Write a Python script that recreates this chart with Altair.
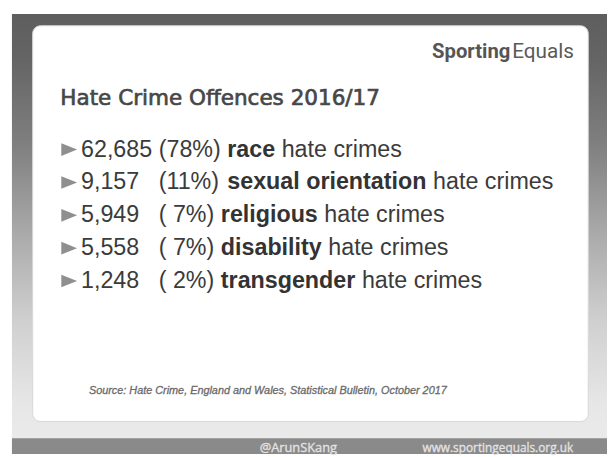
import altair as alt
import pandas as pd

# ---- content -------------------------------------------------------------
counts = ["62,685", "9,157", "5,949", "5,558", "1,248"]
shares = ["(78%)", "(11%)", "( 7%)", "( 7%)", "( 2%)"]
categories = ["race", "sexual orientation", "religious", "disability", "transgender"]
suffix = "hate crimes"
title_text = "Hate Crime Offences 2016/17"
source_text = "Source: Hate Crime, England and Wales, Statistical Bulletin, October 2017"
brand_bold = "Sporting"
brand_rest = "Equals"
handle = "@ArunSKang"
website = "www.sportingequals.org.uk"

# ---- layout / style ------------------------------------------------------
W, H = 607, 449
FS = 23.6
NUM_X = 74
ROW_Y0, ROW_STEP = 140.5, 33.3
TEXT_COLOR = "#3b3b3b"
BODY_FONT = "Liberation Sans"

# Arial-compatible advance widths (1/1000 em) for Liberation Sans
REG = {**{d: 556 for d in "0123456789"}, ",": 278, " ": 278, "(": 333, ")": 333, "%": 889}
BOLD = dict(zip("abcdefghijklmnopqrstuvwxyz",
                [556, 611, 556, 611, 556, 333, 611, 611, 278, 278, 556, 278, 889,
                 611, 611, 611, 611, 389, 556, 333, 611, 556, 778, 556, 556, 500]))
BOLD[" "] = 278


def width(s, table):
    return sum(table[c] for c in s) * FS / 1000


share_x = NUM_X + width(counts[0] + " ", REG)
rows = pd.DataFrame({"row": range(len(counts)), "count": counts, "share": shares,
                     "category": categories, "suffix": [suffix] * len(counts)})
rows["cat_x"] = [share_x + width(s + " ", REG) for s in shares]
rows["suf_x"] = [cx + width(c, BOLD) + width(" ", REG) for cx, c in zip(rows["cat_x"], categories)]

xs = alt.Scale(domain=[0, W], range=[0, W])
ys = alt.Scale(domain=[0, len(counts) - 1], range=[ROW_Y0, ROW_Y0 + ROW_STEP * (len(counts) - 1)])
Y = alt.Y("row:Q", scale=ys, axis=None)

one = alt.Data(values=[{"k": 1}])

frame = alt.Chart(one).mark_rect(
    color=alt.Gradient(
        gradient="linear", x1=0, x2=0, y1=0, y2=1,
        stops=[alt.GradientStop(color="#5e5e5e", offset=0),
               alt.GradientStop(color="#646464", offset=0.1),
               alt.GradientStop(color="#808080", offset=0.3),
               alt.GradientStop(color="#aaaaaa", offset=0.5),
               alt.GradientStop(color="#d0d0d0", offset=0.7),
               alt.GradientStop(color="#e6e6e6", offset=0.88),
               alt.GradientStop(color="#ececec", offset=1)])
).encode(x=alt.value(4), x2=alt.value(W), y=alt.value(3), y2=alt.value(H))

band = alt.Chart(one).mark_rect(color="#8a8a8a").encode(
    x=alt.value(4), x2=alt.value(W), y=alt.value(433), y2=alt.value(H))

card = alt.Chart(one).mark_rect(fill="white", stroke="#d6d6d6", strokeWidth=1, cornerRadius=8).encode(
    x=alt.value(25), x2=alt.value(588), y=alt.value(15), y2=alt.value(416))

title = alt.Chart(alt.Data(values=[{"t": title_text}])).mark_text(
    font="DejaVu Sans", fontSize=21.8, color="#474747", stroke="#474747", strokeWidth=0.7,
    align="left", baseline="alphabetic"
).encode(x=alt.value(53), y=alt.value(95), text="t:N")

logo_a = alt.Chart(alt.Data(values=[{"t": brand_bold}])).mark_text(
    font="Roboto", fontSize=20.5, fontWeight="bold",
    color="#555555", align="right", baseline="alphabetic"
).encode(x=alt.value(509), y=alt.value(48), text="t:N")

logo_b = alt.Chart(alt.Data(values=[{"t": brand_rest}])).mark_text(
    font="Roboto", fontSize=21,
    color="#5a5a5a", align="left", baseline="alphabetic"
).encode(x=alt.value(511), y=alt.value(48), text="t:N")

base = alt.Chart(rows)

tri = base.mark_point(shape="M-1,-0.8L1,0L-1,0.8Z", filled=True, size=256, color="#8f8f8f",
                      opacity=1, strokeWidth=0).encode(x=alt.value(62), y=Y)

num = base.mark_text(font=BODY_FONT, fontSize=FS, color=TEXT_COLOR, align="left", baseline="middle").encode(
    x=alt.value(NUM_X), y=Y, text="count:N")

pct = base.mark_text(font=BODY_FONT, fontSize=FS, color=TEXT_COLOR, align="left", baseline="middle").encode(
    x=alt.value(share_x), y=Y, text="share:N")

cat = base.mark_text(font=BODY_FONT, fontSize=FS, fontWeight="bold", color="#333333",
                     align="left", baseline="middle").encode(
    x=alt.X("cat_x:Q", scale=xs, axis=None), y=Y, text="category:N")

suf = base.mark_text(font=BODY_FONT, fontSize=FS, color=TEXT_COLOR, align="left", baseline="middle").encode(
    x=alt.X("suf_x:Q", scale=xs, axis=None), y=Y, text="suffix:N")

source = alt.Chart(alt.Data(values=[{"t": source_text}])).mark_text(
    font=BODY_FONT, fontSize=11, fontStyle="italic", color="#6a6a6a", stroke="#6a6a6a", strokeWidth=0.3,
    align="left", baseline="middle"
).encode(x=alt.value(82), y=alt.value(385), text="t:N")

handle_t = alt.Chart(alt.Data(values=[{"t": handle}])).mark_text(
    font="Open Sans", fontSize=13, color="#e4e4e4", stroke="#e4e4e4", strokeWidth=0.3,
    align="left", baseline="alphabetic"
).encode(x=alt.value(255), y=alt.value(446.5), text="t:N")

site_t = alt.Chart(alt.Data(values=[{"t": website}])).mark_text(
    font="Open Sans", fontSize=12, color="#e4e4e4", stroke="#e4e4e4", strokeWidth=0.3,
    align="left", baseline="alphabetic"
).encode(x=alt.value(420), y=alt.value(446.5), text="t:N")

chart = alt.layer(
    frame, band, card, title, logo_a, logo_b, tri, num, pct, cat, suf, source, handle_t, site_t
).properties(
    width=W, height=H, padding=0, autosize=alt.AutoSizeParams(type="none"), background="white"
).configure_view(stroke=None)

chart.save("out.html", embed_options={"renderer": "svg", "actions": False})
